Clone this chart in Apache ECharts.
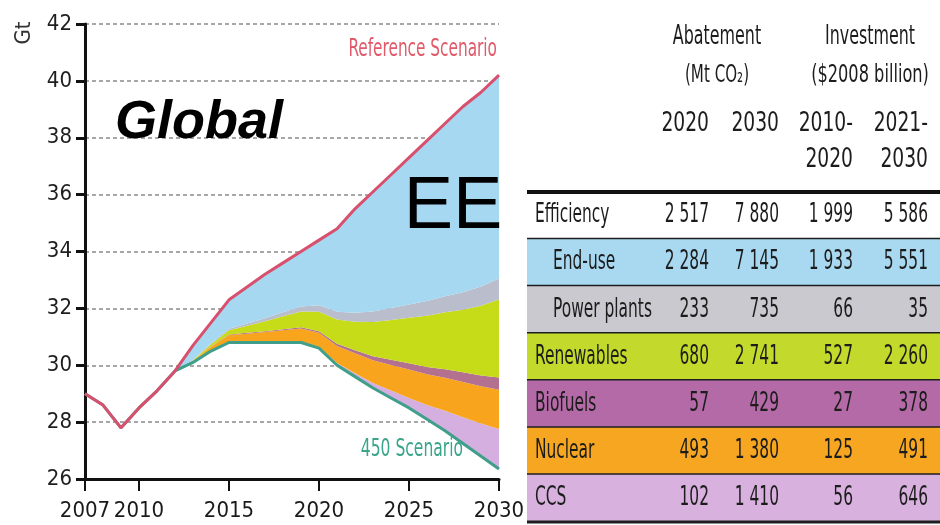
<!DOCTYPE html>
<html>
<head>
<meta charset="utf-8">
<title>Global - CO2 abatement</title>
<script src="https://cdn.jsdelivr.net/npm/echarts@6/dist/echarts.min.js"></script>
<style>
  html, body { margin: 0; padding: 0; background: #fff; }
  #chart { width: 940px; height: 525px; }
</style>
</head>
<body>
<div id="chart"></div>
<script>
// chart data (Gt CO2)
var years = ['2007', '2008', '2009', '2010', '2011', '2012', '2013', '2014', '2015', '2016', '2017', '2018',
             '2019', '2020', '2021', '2022', '2023', '2024', '2025', '2026', '2027', '2028', '2029', '2030'];
var tickYears = ['2007', '2010', '2015', '2020', '2025', '2030'];
var referenceScenario = [29.0, 28.6, 27.8, 28.5, 29.1, 29.8, 30.7, 31.5, 32.3, 32.75, 33.2, 33.6,
                         34.0, 34.4, 34.8, 35.5, 36.1, 36.7, 37.3, 37.9, 38.5, 39.1, 39.6, 40.2];
var scenario450 = [29.0, 28.6, 27.8, 28.5, 29.1, 29.8, 30.1, 30.5, 30.8, 30.8, 30.8, 30.8,
                   30.8, 30.6, 30.0, 29.6, 29.2, 28.85, 28.5, 28.1, 27.7, 27.25, 26.8, 26.35];
// abatement wedges, stacked upward from the 450 line
var ccs         = [0, 0, 0, 0, 0, 0, 0, 0, 0.01, 0.01, 0.02, 0.03, 0.04, 0.05, 0.08, 0.12, 0.18, 0.26, 0.35, 0.5, 0.7, 0.92, 1.15, 1.41];
var nuclear     = [0, 0, 0, 0, 0, 0, 0.05, 0.15, 0.25, 0.3, 0.35, 0.4, 0.45, 0.49, 0.6, 0.7, 0.8, 0.9, 1.0, 1.08, 1.16, 1.24, 1.31, 1.38];
var biofuels    = [0, 0, 0, 0, 0, 0, 0, 0.01, 0.02, 0.03, 0.03, 0.04, 0.05, 0.06, 0.08, 0.11, 0.14, 0.18, 0.22, 0.26, 0.3, 0.34, 0.38, 0.43];
var renewables  = [0, 0, 0, 0, 0, 0, 0.03, 0.08, 0.15, 0.25, 0.35, 0.45, 0.55, 0.68, 0.85, 1.0, 1.2, 1.4, 1.6, 1.8, 2.0, 2.2, 2.45, 2.74];
var powerPlants = [0, 0, 0, 0, 0, 0, 0.01, 0.03, 0.05, 0.08, 0.1, 0.14, 0.18, 0.23, 0.27, 0.32, 0.37, 0.42, 0.47, 0.52, 0.57, 0.62, 0.68, 0.74];
var endUse      = [0, 0, 0, 0, 0, 0, 0.51, 0.73, 1.02, 1.28, 1.55, 1.74, 1.93, 2.29, 2.92, 3.65, 4.21, 4.69, 5.16, 5.64, 6.07, 6.53, 6.83, 7.15];

// table data
var rowNames = ['Efficiency', 'End-use', 'Power plants', 'Renewables', 'Biofuels', 'Nuclear', 'CCS'];
var rowIndent = [false, true, true, false, false, false, false];
var abatement2020 = ['2 517', '2 284', '233', '680', '57', '493', '102'];
var abatement2030 = ['7 880', '7 145', '735', '2 741', '429', '1 380', '1 410'];
var investment2010 = ['1 999', '1 933', '66', '527', '27', '125', '56'];
var investment2021 = ['5 586', '5 551', '35', '2 260', '378', '491', '646'];

var rowColors = ['#ffffff', '#a8d9f1', '#c9c9cf', '#c3d92b', '#b36aa6', '#f6a620', '#d8b1df'];
var NARROW = '"DejaVu Sans Condensed", "Liberation Sans Narrow", sans-serif';
var colRight = [709, 779, 853, 928];

var myChart = echarts.init(document.getElementById('chart'));

function label(s, x, y, align, size, scale, color, extra) {
    var el = {
        type: 'text', x: x, y: y, scaleX: scale, z: 20,
        style: {
            text: s, fill: color || '#1c1c1c', fontSize: size, fontFamily: NARROW,
            align: align, verticalAlign: 'middle', textAlign: align, textVerticalAlign: 'middle'
        }
    };
    if (extra) {
        for (var k in extra) el.style[k] = extra[k];
    }
    return el;
}

function wedge(name, data, color) {
    return {
        name: name, type: 'line', stack: 'abate', data: data,
        symbol: 'none', lineStyle: { width: 0 },
        areaStyle: { color: color, opacity: 1 },
        emphasis: { disabled: true }, z: 2
    };
}

function showTick(index, value) {
    return tickYears.indexOf(value) >= 0;
}

var tableData = rowNames.map(function (n, i) { return [0, i]; });

var option = {
    animation: false,
    grid: [
        { left: 85, right: 441, top: 24, bottom: 46 },
        { left: 527, right: 0, top: 192, height: 330 }
    ],
    xAxis: [{
        type: 'category', data: years, boundaryGap: false,
        axisLine: { lineStyle: { color: '#111', width: 3 } },
        axisTick: { interval: showTick, length: 12, lineStyle: { color: '#111', width: 2 } },
        axisLabel: { interval: showTick, showMinLabel: true, showMaxLabel: true, hideOverlap: false,
                     margin: 21, fontSize: 22, fontFamily: NARROW, color: '#1a1a1a' },
        splitLine: { show: false }
    }, {
        gridIndex: 1, type: 'value', min: 0, max: 1, show: false
    }],
    yAxis: [{
        type: 'value', min: 26, max: 42, interval: 2,
        axisLine: { show: true, lineStyle: { color: '#111', width: 3 } },
        axisTick: { show: true, length: 9, lineStyle: { color: '#111', width: 3 } },
        axisLabel: { margin: 13, fontSize: 22, fontFamily: NARROW, color: '#1e1e1e' },
        splitLine: { lineStyle: { color: '#8a8a8a', type: [4, 3], width: 1.5 } }
    }, {
        gridIndex: 1, type: 'category', data: rowNames, inverse: true, show: false
    }],
    series: [
        {
            name: '450 Scenario', type: 'line', stack: 'abate', data: scenario450,
            symbol: 'none', lineStyle: { color: '#3f9f8a', width: 3 }, z: 5,
            emphasis: { disabled: true }
        },
        wedge('CCS', ccs, '#d4afdf'),
        wedge('Nuclear', nuclear, '#f8a51d'),
        wedge('Biofuels', biofuels, '#b4708f'),
        wedge('Renewables', renewables, '#c6dc18'),
        wedge('Power plants', powerPlants, '#b9bdcc'),
        wedge('End-use', endUse, '#a7d8f1'),
        {
            name: 'Reference Scenario', type: 'line', data: referenceScenario,
            symbol: 'none', lineStyle: { color: '#d9506e', width: 3 }, z: 6,
            emphasis: { disabled: true }
        },
        {
            type: 'custom', xAxisIndex: 1, yAxisIndex: 1, coordinateSystem: 'cartesian2d',
            data: tableData, clip: false,
            renderItem: function (params, api) {
                var i = api.value(1);
                var cs = params.coordSys;
                var c = api.coord([0, i]);
                var h = api.size([0, 1])[1];
                var top = c[1] - h / 2;
                var kids = [
                    { type: 'rect', shape: { x: cs.x, y: top, width: cs.width, height: h }, style: { fill: rowColors[i] } },
                    { type: 'line', shape: { x1: cs.x, y1: top + h, x2: cs.x + cs.width, y2: top + h },
                      style: { stroke: '#1e1e1e', lineWidth: 3 } }
                ];
                if (i === 0) {
                    kids.push({ type: 'line', shape: { x1: cs.x, y1: top, x2: cs.x + cs.width, y2: top },
                                style: { stroke: '#111', lineWidth: 4 } });
                }
                kids.push(label(rowNames[i], cs.x + (rowIndent[i] ? 26 : 8), c[1], 'left', 26, 0.66));
                var vals = [abatement2020[i], abatement2030[i], investment2010[i], investment2021[i]];
                for (var j = 0; j < vals.length; j++) {
                    kids.push(label(vals[j], colRight[j], c[1], 'right', 26, 0.66));
                }
                return { type: 'group', children: kids };
            }
        }
    ],
    graphic: [
        Object.assign(label('Gt', 24, 33, 'center', 22, 1, '#333'), { rotation: Math.PI / 2 }),
        label('Global', 115, 123, 'left', 54, 1, '#000',
              { fontFamily: '"Liberation Sans", Arial, sans-serif', fontWeight: 'bold', fontStyle: 'italic' }),
        label('EE', 453, 208, 'center', 74, 1, '#000', { fontFamily: '"Liberation Sans", Arial, sans-serif' }),
        label('Reference Scenario', 497, 50, 'right', 24, 0.71, '#e05a6a'),
        label('450 Scenario', 463, 450, 'right', 24, 0.72, '#3aa58a'),
        label('Abatement', 717, 37, 'center', 26, 0.68),
        label('(Mt CO\u2082)', 717, 76, 'center', 24, 0.7),
        label('Investment', 870, 37, 'center', 26, 0.68),
        label('($2008 billion)', 870, 76, 'center', 24, 0.75),
        label('2020', colRight[0], 124, 'right', 26, 0.8),
        label('2030', colRight[1], 124, 'right', 26, 0.8),
        label('2010-', colRight[2], 124, 'right', 26, 0.8),
        label('2020', colRight[2], 160, 'right', 26, 0.8),
        label('2021-', colRight[3], 124, 'right', 26, 0.8),
        label('2030', colRight[3], 160, 'right', 26, 0.8)
    ]
};

myChart.setOption(option);
</script>
</body>
</html>
